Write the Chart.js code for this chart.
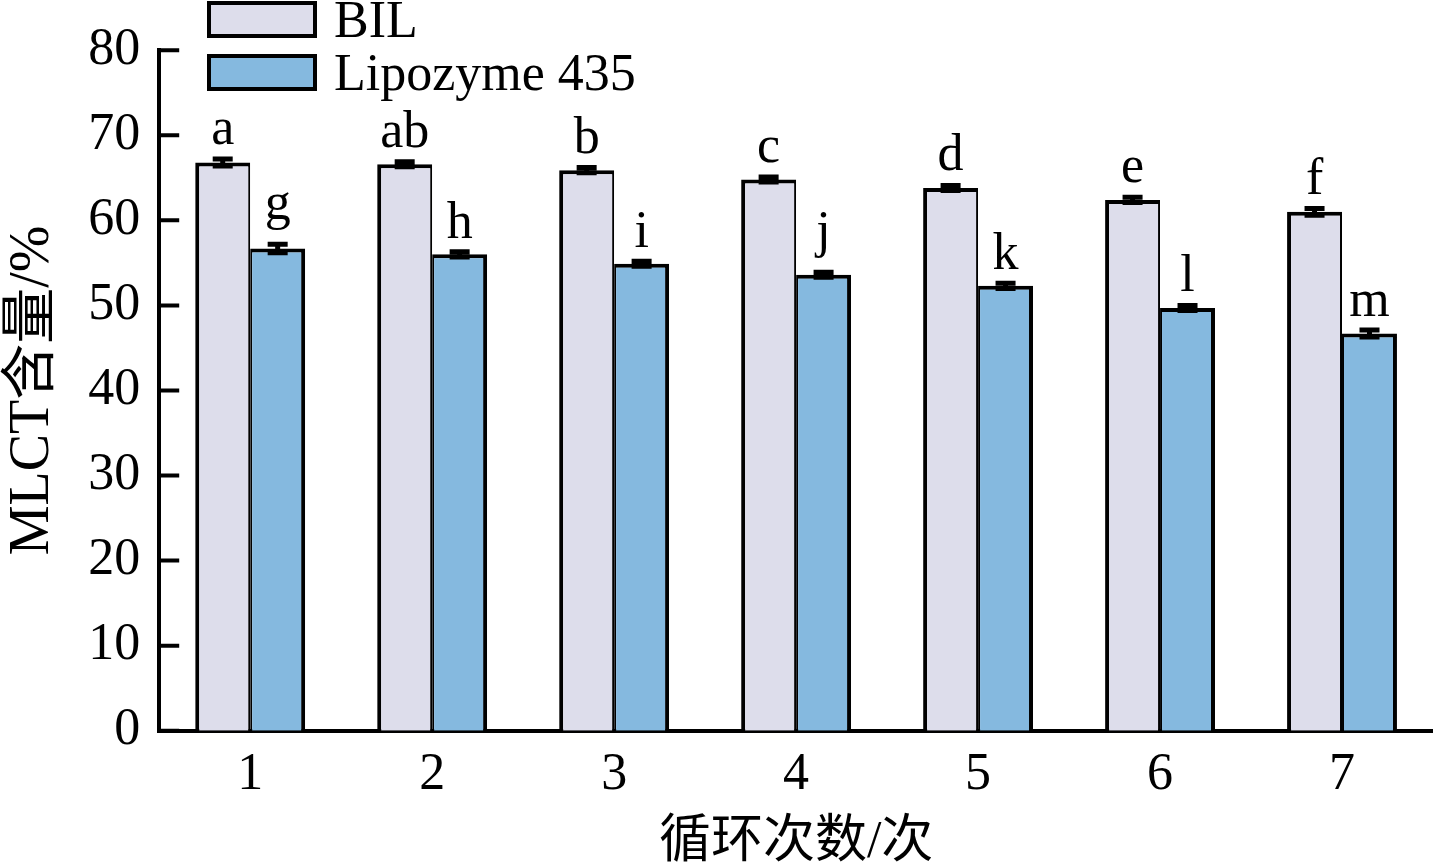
<!DOCTYPE html>
<html>
<head>
<meta charset="utf-8">
<script src="https://cdn.jsdelivr.net/npm/chart.js@4.4.1/dist/chart.umd.min.js"></script>
<style>
  html, body { margin: 0; padding: 0; background: #fff; }
  #wrap { width: 1433px; height: 867px; }
</style>
</head>
<body>
<div id="wrap"><canvas id="chart" width="1433" height="867"></canvas></div>
<script>
// data
const cycles = ["1", "2", "3", "4", "5", "6", "7"];
const bilValues = [66.8, 66.6, 65.9, 64.8, 63.8, 62.4, 61.0];
const bilErrors = [0.4, 0.3, 0.3, 0.3, 0.3, 0.3, 0.4];
const bilLetters = ["a", "ab", "b", "c", "d", "e", "f"];
const lipValues = [56.7, 56.0, 54.9, 53.6, 52.3, 49.7, 46.7];
const lipErrors = [0.5, 0.3, 0.3, 0.3, 0.3, 0.3, 0.4];
const lipLetters = ["g", "h", "i", "j", "k", "l", "m"];
const yTicks = [0, 10, 20, 30, 40, 50, 60, 70, 80];

const serif = "'Liberation Serif', 'Times New Roman', 'Noto Sans CJK SC', serif";
const bilColor = "rgb(221, 221, 235)";
const lipColor = "rgb(133, 185, 223)";

// error bars + significance letters
const barExtras = {
    id: "barExtras",
    afterDatasetsDraw(chart) {
        const ctx = chart.ctx;
        const y = chart.scales.y;
        chart.data.datasets.forEach((ds, i) => {
            const meta = chart.getDatasetMeta(i);
            meta.data.forEach((bar, j) => {
                const v = ds.data[j];
                const e = ds.errors[j];
                const yHi = y.getPixelForValue(v + e);
                const yLo = y.getPixelForValue(v - e);
                ctx.save();
                ctx.strokeStyle = "#000";
                ctx.lineWidth = 5;
                ctx.beginPath();
                ctx.moveTo(bar.x, yHi);
                ctx.lineTo(bar.x, yLo);
                ctx.moveTo(bar.x - 10, yHi);
                ctx.lineTo(bar.x + 10, yHi);
                ctx.moveTo(bar.x - 10, yLo);
                ctx.lineTo(bar.x + 10, yLo);
                ctx.stroke();

                ctx.font = "52px " + serif;
                ctx.fillStyle = "#000";
                ctx.textAlign = "center";
                ctx.textBaseline = "alphabetic";
                const txt = ds.letters[j];
                const m = ctx.measureText(txt);
                ctx.fillText(txt, bar.x, yHi - 14 - m.actualBoundingBoxDescent);
                ctx.restore();
            });
        });
    },
    afterDraw(chart) {
        const ctx = chart.ctx;
        const y = chart.scales.y;
        const left = chart.chartArea.left;
        ctx.save();
        // inward ticks on the y axis
        ctx.strokeStyle = "#000";
        ctx.lineWidth = 4;
        ctx.beginPath();
        yTicks.forEach((t) => {
            const py = y.getPixelForValue(t);
            ctx.moveTo(left, py);
            ctx.lineTo(left + 20, py);
        });
        ctx.stroke();

        // legend, stacked in the top-left corner
        ctx.font = "52px " + serif;
        ctx.textAlign = "left";
        ctx.textBaseline = "alphabetic";
        chart.data.datasets.forEach((ds, i) => {
            const top = 3 + i * 53;
            ctx.fillStyle = ds.backgroundColor;
            ctx.fillRect(209, top, 106, 33);
            ctx.lineWidth = 4;
            ctx.strokeStyle = "#000";
            ctx.strokeRect(209, top, 106, 33);
            ctx.fillStyle = "#000";
            ctx.fillText(ds.label, 334, top + 34);
        });
        ctx.restore();
    }
};

new Chart(document.getElementById("chart"), {
    type: "bar",
    data: {
        labels: cycles,
        datasets: [
            {
                label: "BIL",
                data: bilValues,
                errors: bilErrors,
                letters: bilLetters,
                backgroundColor: bilColor,
                borderColor: "#000",
                borderWidth: { top: 4, left: 4, right: 2, bottom: 0 },
                borderSkipped: false,
            },
            {
                label: "Lipozyme 435",
                data: lipValues,
                errors: lipErrors,
                letters: lipLetters,
                backgroundColor: lipColor,
                borderColor: "#000",
                borderWidth: { top: 4, left: 2, right: 4, bottom: 0 },
                borderSkipped: false,
            },
        ],
    },
    options: {
        responsive: false,
        animation: false,
        devicePixelRatio: 1,
        layout: { padding: { top: 28, right: 0, bottom: 0, left: 0 } },
        datasets: {
            bar: { categoryPercentage: 0.604, barPercentage: 1.0 },
        },
        plugins: {
            legend: { display: false },
            tooltip: { enabled: false },
        },
        scales: {
            x: {
                grid: { display: false, drawTicks: false },
                border: { display: true, color: "#000", width: 4 },
                ticks: {
                    color: "#000",
                    padding: 13,
                    font: { family: serif, size: 52 },
                },
                title: {
                    display: true,
                    text: "循环次数/次",
                    color: "#000",
                    padding: { top: 0, bottom: 0 },
                    font: { family: serif, size: 52, lineHeight: 0.92 },
                },
            },
            y: {
                min: 0,
                max: 80,
                grid: { display: false, drawTicks: false },
                border: { display: true, color: "#000", width: 4 },
                ticks: {
                    stepSize: 10,
                    color: "#000",
                    padding: 19,
                    font: { family: serif, size: 52 },
                },
                title: {
                    display: true,
                    text: "MLCT含量/%",
                    color: "#000",
                    padding: { top: 0, bottom: 2 },
                    font: { family: serif, size: 56 },
                },
            },
        },
    },
    plugins: [barExtras],
});
</script>
</body>
</html>
